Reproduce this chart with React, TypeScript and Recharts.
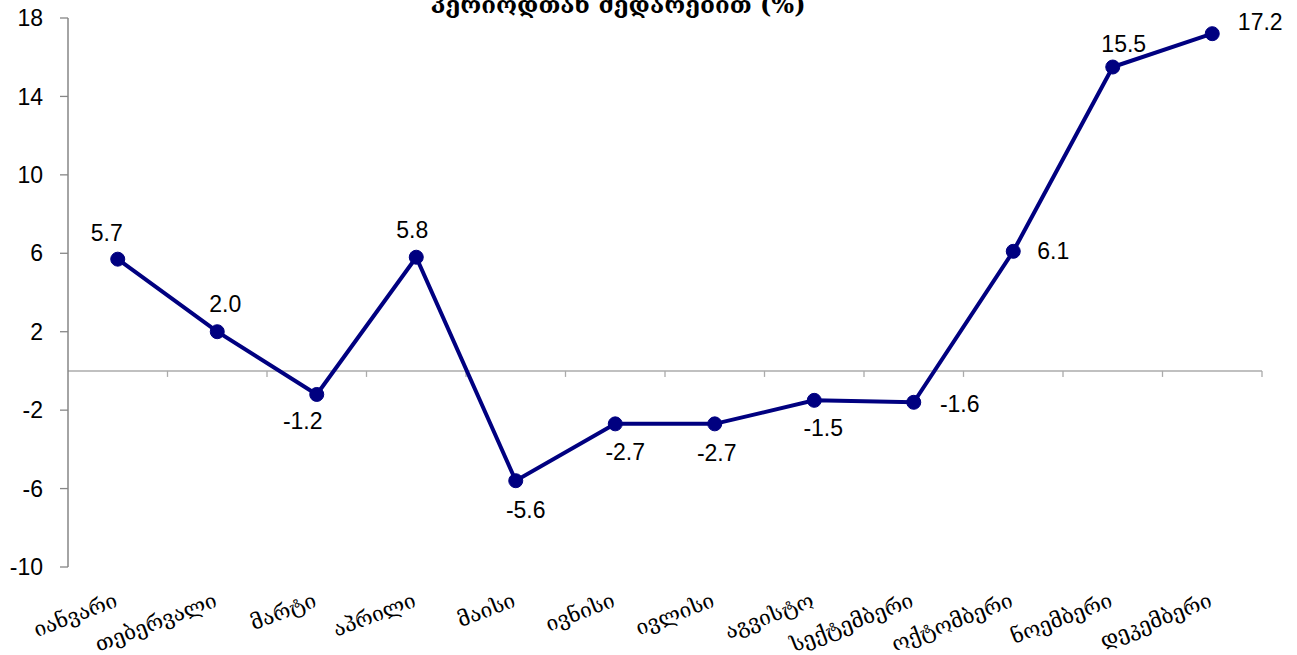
import { ComposedChart, Line, XAxis, YAxis, ReferenceLine } from "recharts";

const months = [
  "იანვარი",
  "თებერვალი",
  "მარტი",
  "აპრილი",
  "მაისი",
  "ივნისი",
  "ივლისი",
  "აგვისტო",
  "სექტემბერი",
  "ოქტომბერი",
  "ნოემბერი",
  "დეკემბერი",
];
const values = [5.7, 2.0, -1.2, 5.8, -5.6, -2.7, -2.7, -1.5, -1.6, 6.1, 15.5, 17.2];
const yTicks = [-10, -6, -2, 2, 6, 10, 14, 18];
const title = "პერიოდთან შედარებით (%)";

// where each value label sits relative to its point (dx, dy)
const labelOffsets: [number, number][] = [
  [-11, -26],
  [8, -28],
  [-14, 27],
  [-4, -27],
  [10, 29],
  [10, 28],
  [2, 29],
  [9, 28],
  [46, 2],
  [40, 0],
  [11, -23],
  [48, -12],
];

const NAVY = "#000080";
const NUM_FONT = "'Liberation Sans', Arial, sans-serif";
const GEO_FONT = "'DejaVu Serif', 'DejaVu Sans', serif";

const chartData = months.map((m, i) => ({ month: m, value: values[i] }));

function MonthTick(props: any) {
  const { x, y, payload } = props;
  const ax = x + 1;
  const ay = y + 39;
  return (
    <text
      x={ax}
      y={ay}
      textAnchor="end"
      transform={`rotate(-21, ${ax}, ${ay})`}
      fontFamily={GEO_FONT}
      fontSize={21}
      fill="#000"
    >
      {payload.value}
    </text>
  );
}

function ZeroAxis(props: any) {
  const { x1, y1, x2, y2 } = props;
  const n = months.length;
  const step = (x2 - x1) / n;
  const ticks = [];
  for (let k = 1; k <= n; k++) {
    const tx = x1 + k * step;
    ticks.push(<line key={k} x1={tx} y1={y1} x2={tx} y2={y1 + 6} stroke="#ababab" strokeWidth={1.3} />);
  }
  return (
    <g>
      <line x1={x1} y1={y1} x2={x2} y2={y2} stroke="#ababab" strokeWidth={1.5} />
      {ticks}
    </g>
  );
}

function PointDot(props: any) {
  const { cx, cy, index, value } = props;
  const [dx, dy] = labelOffsets[index] ?? [0, -25];
  return (
    <g key={`pt-${index}`}>
      <circle cx={cx} cy={cy} r={7} fill={NAVY} stroke={NAVY} />
      <text
        x={cx + dx}
        y={cy + dy}
        textAnchor="middle"
        dominantBaseline="central"
        fontFamily={NUM_FONT}
        fontSize={23}
        fill="#000"
      >
        {Number(value).toFixed(1)}
      </text>
    </g>
  );
}

export default function App() {
  return (
    <div style={{ position: "absolute", left: 0, top: 0, width: 1297, height: 655, background: "#fff" }}>
      <svg width={1297} height={30} style={{ position: "absolute", left: 0, top: 0 }}>
        <text
          x={618}
          y={13}
          textAnchor="middle"
          fontFamily={GEO_FONT}
          fontWeight="bold"
          fontSize={24}
          fill="#000"
        >
          {title}
        </text>
      </svg>
      <ComposedChart
        width={1297}
        height={655}
        data={chartData}
        margin={{ top: 18, right: 35, bottom: 0, left: 0 }}
      >
        <XAxis
          dataKey="month"
          scale="band"
          height={88}
          axisLine={false}
          tickLine={false}
          interval={0}
          tickSize={0}
          tickMargin={0}
          tick={<MonthTick />}
        />
        <YAxis
          width={68}
          domain={[-10, 18]}
          ticks={yTicks}
          interval={0}
          axisLine={{ stroke: "#868686", strokeWidth: 1.5 }}
          tickLine={{ stroke: "#868686", strokeWidth: 1.3 }}
          tickSize={8}
          tickMargin={17}
          tick={{ fill: "#000", fontSize: 23, fontFamily: NUM_FONT }}
        />
        <ReferenceLine y={0} shape={<ZeroAxis />} />
        <Line
          type="linear"
          dataKey="value"
          stroke={NAVY}
          strokeWidth={4}
          dot={(p: any) => <PointDot key={`d-${p.index}`} {...p} />}
          activeDot={false}
          isAnimationActive={false}
        />
      </ComposedChart>
    </div>
  );
}
